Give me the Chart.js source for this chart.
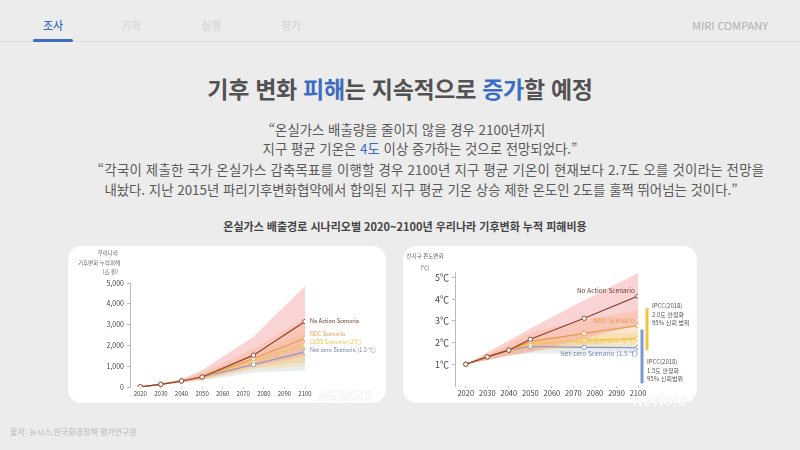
<!DOCTYPE html>
<html lang="ko">
<head>
<meta charset="utf-8">
<script src="https://cdn.jsdelivr.net/npm/chart.js@4.4.1/dist/chart.umd.min.js"></script>
<style>
  html, body { margin: 0; padding: 0; }
  body {
    width: 800px; height: 450px; position: relative; overflow: hidden;
    background: #ececec; font-family: 'Noto Sans CJK KR', 'Noto Sans', sans-serif;
  }
  .abs { position: absolute; white-space: nowrap; }
  .tab { top: 17px; font-size: 11px; color: #d2d2d2; }
  .tab.on { color: #3d6cc2; font-weight: 500; }
  .hline { left: 0; top: 41px; width: 800px; height: 1px; background: #dcdcdc; }
  .uline { left: 33px; top: 39px; width: 40px; height: 3px; background: #3d6cc2; border-radius: 2px; }
  .title { left: 0; width: 800px; top: 71px; text-align: center; font-size: 23px; font-weight: bold; color: #525252; letter-spacing: -0.3px; }
  .blue { color: #3d6cc2; }
  .quote { font-size: 13.4px; color: #5a5a5a; text-align: center; width: 800px; }
  .sub { left: 0; width: 810px; top: 218px; text-align: center; font-size: 11px; font-weight: bold; color: #444; }
  .card { background: #fff; border-radius: 14px; }
  .axt { font-size: 5.5px; color: #666; line-height: 9.5px; }
  .wm { font-size: 13px; font-weight: bold; font-style: italic; color: #fff; text-shadow: 0 0 1px #c4c4c4; letter-spacing: 0.5px; }
  .ipcc { font-size: 6px; color: #555; line-height: 8.5px; }
  .foot { left: 10px; top: 426px; font-size: 8px; color: #b8b8b8; }
</style>
</head>
<body>
<div class="abs tab on" style="left:43px">조사</div>
<div class="abs tab" style="left:121px">기획</div>
<div class="abs tab" style="left:201px">실행</div>
<div class="abs tab" style="left:281px">평가</div>
<div class="abs tab" style="left:692px;color:#b0b0b0">MIRI COMPANY</div>
<div class="abs hline"></div>
<div class="abs uline"></div>

<div class="abs title">기후 변화 <span class="blue">피해</span>는 지속적으로 <span class="blue">증가</span>할 예정</div>
<div class="abs quote" style="left:7px;top:119px">“온실가스 배출량을 줄이지 않을 경우 2100년까지</div>
<div class="abs quote" style="left:20px;top:138px">지구 평균 기온은 <span class="blue">4도</span> 이상 증가하는 것으로 전망되었다.”</div>
<div class="abs quote" style="left:31px;top:159px;letter-spacing:0.2px">“각국이 제출한 국가 온실가스 감축목표를 이행할 경우 2100년 지구 평균 기온이 현재보다 2.7도 오를 것이라는 전망을</div>
<div class="abs quote" style="left:21px;top:179px">내놨다. 지난 2015년 파리기후변화협약에서 합의된 지구 평균 기온 상승 제한 온도인 2도를 훌쩍 뛰어넘는 것이다.”</div>
<div class="abs sub">온실가스 배출경로 시나리오별 2020~2100년 우리나라 기후변화 누적 피해비용</div>

<div class="abs card" style="left:68px;top:246px;width:318px;height:157px">
  <canvas id="damageChart" width="318" height="157"></canvas>
</div>
<div class="abs card" style="left:403px;top:246px;width:294px;height:157px">
  <canvas id="tempChart" width="294" height="157"></canvas>
</div>

<div class="abs axt" style="left:78px;top:249px;width:40px;text-align:right">우리나라<br>기후변화 누적피해<br>(조 원)</div>
<div class="abs axt" style="left:404px;top:250px;width:42px;text-align:center;line-height:12px">전지구 온도변화<br>(℃)</div>

<div class="abs ipcc" style="left:652px;top:302px">IPCC(2018)<br>2.0도 안정화<br>95% 신뢰 범위</div>
<div class="abs ipcc" style="left:647px;top:358px">IPCC(2018)<br>1.5도 안정화<br>95% 신뢰범위</div>

<div class="abs wm" style="left:318px;top:386px">NEWSIS</div>
<div class="abs wm" style="left:633px;top:391px">NEWSIS</div>

<div class="abs foot">출처: 뉴시스,한국환경정책·평가연구원</div>

<script>
// --- Data ---
const years = [2020, 2030, 2040, 2050, 2075, 2100];
const tickYears = [2020, 2030, 2040, 2050, 2060, 2070, 2080, 2090, 2100];
const seriesNames = ['No Action Scenario', 'NDC Scenario', 'LEDS Scenario (2℃)', 'Net-zero Scenario (1.5 ℃)'];

// cumulative damage, 조 원
const damageTicks = [0, 1000, 2000, 3000, 4000, 5000];
const damageNoAction = [10, 130, 290, 480, 1530, 3150];
const damageNDC = [10, 130, 290, 480, 1370, 2340];
const damageLEDS = [10, 130, 290, 480, 1260, 2020];
const damageNetZero = [10, 130, 290, 480, 1080, 1690];
const damageNoActionHigh = [20, 150, 380, 800, 2420, 4850];
const damageNoActionLow = [0, 110, 220, 380, 1000, 1500];
const damageNDCHigh = [15, 145, 350, 680, 1850, 3300];
const damageNDCLow = [0, 110, 215, 360, 900, 1200];
const damageLEDSHigh = [12, 140, 330, 620, 1600, 2650];
const damageLEDSLow = [0, 108, 210, 340, 820, 1000];
const damageNetZeroHigh = [10, 135, 315, 570, 1350, 2150];
const damageNetZeroLow = [0, 105, 200, 310, 700, 800];

// global temperature change, ℃
const tempTicks = [1, 2, 3, 4, 5];
const tempNoAction = [1.0, 1.34, 1.65, 2.15, 3.12, 4.14];
const tempNDC = [1.0, 1.34, 1.65, 2.04, 2.42, 2.78];
const tempLEDS = [1.0, 1.34, 1.65, 1.94, 2.1, 2.18];
const tempNetZero = [1.0, 1.34, 1.65, 1.82, 1.78, 1.77];
const tempNoActionHigh = [1.0, 1.55, 2.1, 2.65, 3.95, 5.2];
const tempNoActionLow = [1.0, 1.2, 1.4, 1.55, 2.2, 2.8];
const tempNDCHigh = [1.0, 1.45, 1.95, 2.45, 3.05, 3.5];
const tempNDCLow = [1.0, 1.2, 1.4, 1.6, 1.9, 2.1];
const tempLEDSHigh = [1.0, 1.4, 1.8, 2.2, 2.4, 2.45];
const tempLEDSLow = [1.0, 1.2, 1.4, 1.6, 1.75, 1.85];
const tempNetZeroHigh = [1.0, 1.38, 1.75, 2.0, 2.0, 1.95];
const tempNetZeroLow = [1.0, 1.2, 1.4, 1.5, 1.5, 1.5];
const ipcc20Range = [1.64, 3.58];
const ipcc15Range = [0.12, 2.6];

// --- Styles ---
const lineColors = ['#8a3f32', '#eb9a45', '#f2c54a', '#8a97b8'];
const bandColors = ['rgba(243,160,160,0.45)', 'rgba(246,182,112,0.32)', 'rgba(246,214,120,0.32)', 'rgba(200,212,226,0.42)'];
const labelColors = ['#6e3a30', '#eb9a45', '#f0c040', '#7483a8'];
const fontFamily = "'Noto Sans CJK KR', 'Noto Sans', sans-serif";

const pts = (vals) => years.map((y, i) => ({ x: y, y: vals[i] }));

function bandSets(highs, lows) {
    const out = [];
    highs.forEach((h, i) => {
        out.push({ data: pts(h), borderWidth: 0, pointRadius: 0, fill: '+1', backgroundColor: bandColors[i], order: 10 });
        out.push({ data: pts(lows[i]), borderWidth: 0, pointRadius: 0, fill: false, order: 10 });
    });
    return out;
}

function lineSets(series, labels) {
    // drawn so that No Action ends on top
    return series.map((vals, i) => ({
        data: pts(vals),
        borderColor: lineColors[i],
        borderWidth: 1.2,
        pointRadius: 2.2,
        pointBorderWidth: 0.9,
        pointBackgroundColor: '#fff',
        pointBorderColor: lineColors[i],
        fill: false,
        tension: 0,
        order: 1 + i,
        endLabel: labels[i]
    }));
}

// end-of-line scenario labels, placed from the scales
const endLabels = {
    id: 'endLabels',
    afterDatasetsDraw(chart, args, opts) {
        const { ctx, scales } = chart;
        ctx.save();
        ctx.font = opts.size + 'px ' + fontFamily;
        ctx.textBaseline = 'middle';
        chart.data.datasets.forEach(ds => {
            if (!ds.endLabel) return;
            const last = ds.data[ds.data.length - 1];
            const x = scales.x.getPixelForValue(last.x) + ds.endLabel.dx;
            const y = scales.y.getPixelForValue(last.y) + ds.endLabel.dy;
            ctx.textAlign = ds.endLabel.align;
            ctx.fillStyle = ds.endLabel.color;
            ctx.fillText(ds.endLabel.text, x, y);
        });
        ctx.restore();
    }
};

// IPCC range bars right of the plot
const rangeBars = {
    id: 'rangeBars',
    afterDatasetsDraw(chart, args, opts) {
        if (!opts.bars) return;
        const { ctx, chartArea, scales } = chart;
        ctx.save();
        opts.bars.forEach(b => {
            ctx.strokeStyle = b.color;
            ctx.lineWidth = 3;
            ctx.beginPath();
            ctx.moveTo(chartArea.right + b.dx, scales.y.getPixelForValue(b.range[0]));
            ctx.lineTo(chartArea.right + b.dx, scales.y.getPixelForValue(b.range[1]));
            ctx.stroke();
        });
        ctx.restore();
    }
};

function baseOptions(o) {
    return {
        responsive: false,
        animation: false,
        layout: { padding: o.padding },
        plugins: {
            legend: { display: false },
            tooltip: { enabled: false },
            endLabels: { size: o.labelSize },
            rangeBars: { bars: o.bars || null }
        },
        scales: {
            x: {
                type: 'linear', min: 2015, max: 2100,
                afterBuildTicks: (s) => { s.ticks = tickYears.map(v => ({ value: v })); },
                afterFit: (s) => { s.height = o.xHeight; },
                border: { display: false },
                grid: { drawOnChartArea: false, tickLength: 2, color: '#ccc' },
                ticks: { color: '#444', padding: 1, font: { family: fontFamily, size: o.xFont }, callback: (v) => String(v), autoSkip: false, maxRotation: 0 }
            },
            y: {
                min: o.yMin, max: o.yMax,
                afterBuildTicks: (s) => { s.ticks = o.yTicks.map(v => ({ value: v })); },
                afterFit: (s) => { s.width = o.yWidth; },
                border: { display: true, color: '#bbb', width: 1 },
                grid: { drawOnChartArea: false, tickLength: 3, color: '#bbb' },
                ticks: { color: '#444', padding: 3, font: { family: fontFamily, size: o.yFont }, callback: o.yFmt }
            }
        }
    };
}

// --- Chart 1: cumulative damage ---
const dmgLabels = seriesNames.map((t, i) => ({ text: t, color: labelColors[i], dx: 5, dy: [-1, -4, -3, -2][i], align: 'left' }));
new Chart(document.getElementById('damageChart'), {
    type: 'line',
    data: {
        datasets: [
            ...lineSets([damageNoAction, damageNDC, damageLEDS, damageNetZero], dmgLabels),
            ...bandSets([damageNoActionHigh, damageNDCHigh, damageLEDSHigh, damageNetZeroHigh],
                        [damageNoActionLow, damageNDCLow, damageLEDSLow, damageNetZeroLow])
        ]
    },
    options: baseOptions({
        padding: { left: 0, top: 37, right: 81, bottom: 0 },
        xHeight: 16, yWidth: 62, xFont: 6, yFont: 7, labelSize: 5.5,
        yMin: 0, yMax: 5000, yTicks: damageTicks,
        yFmt: (v) => v.toLocaleString('en-US')
    }),
    plugins: [endLabels, rangeBars]
});

// --- Chart 2: temperature ---
const tmpLabels = seriesNames.map((t, i) => ({ text: t, color: labelColors[i], dx: [-3, -3, -2, 0][i], dy: [-6, -5, 2, 6][i], align: 'right' }));
new Chart(document.getElementById('tempChart'), {
    type: 'line',
    data: {
        datasets: [
            ...lineSets([tempNoAction, tempNDC, tempLEDS, tempNetZero], tmpLabels),
            ...bandSets([tempNoActionHigh, tempNDCHigh, tempLEDSHigh, tempNetZeroHigh],
                        [tempNoActionLow, tempNDCLow, tempLEDSLow, tempNetZeroLow])
        ]
    },
    options: baseOptions({
        padding: { left: 0, top: 26, right: 59, bottom: 0 },
        xHeight: 17, yWidth: 52, xFont: 7.5, yFont: 9, labelSize: 6.5,
        yMin: 0, yMax: 5.25, yTicks: tempTicks,
        yFmt: (v) => v + '℃',
        bars: [
            { range: ipcc20Range, color: '#f0c43c', dx: 9 },
            { range: ipcc15Range, color: '#7b9bd0', dx: 4 }
        ]
    }),
    plugins: [endLabels, rangeBars]
});
</script>
</body>
</html>
